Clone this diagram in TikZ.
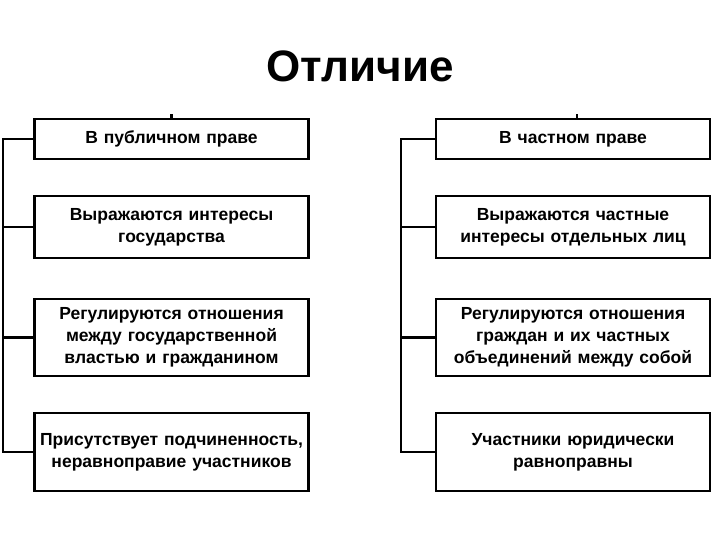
\documentclass[tikz,border=0pt]{standalone}
\usepackage{fontspec}
\setmainfont{Liberation Sans}
\usepackage{tikz}
\usetikzlibrary{positioning}

\begin{document}
\begin{tikzpicture}[x=1pt, y=-1pt, line width=2.2pt,
  item/.style={draw, rectangle, minimum width=274pt, text width=272pt,
    align=center, inner sep=0pt, font=\bfseries\fontsize{17.5}{22}\selectfont}]
  % canvas
  \useasboundingbox (0,0) rectangle (720,540);

  % Title
  \node[font=\bfseries\fontsize{44}{48}\selectfont, anchor=base] (title) at (360,82) {Отличие};

  % Left column: public law
  \node[item, minimum height=40pt] (pub1) at (171.5,139) {В публичном праве};
  \node[item, minimum height=62pt] (pub2) at (171.5,227) {Выражаются интересы\\государства};
  \node[item, minimum height=77pt] (pub3) at (171.5,337.5) {Регулируются отношения\\между государственной\\властью и гражданином};
  \node[item, minimum height=78pt] (pub4) at (171.5,452) {Присутствует подчиненность,\\неравноправие участников};

  % Right column: private law
  \node[item, minimum height=40pt] (priv1) at (573,139) {В частном праве};
  \node[item, minimum height=62pt] (priv2) at (573,227) {Выражаются частные\\интересы отдельных лиц};
  \node[item, minimum height=77pt] (priv3) at (573,337.5) {Регулируются отношения\\граждан и их частных\\объединений между собой};
  \node[item, minimum height=78pt] (priv4) at (573,452) {Участники юридически\\равноправны};

  % Left bus
  \coordinate (lbus) at (3,452);
  \draw (pub1.west) -| (lbus) -- (pub4.west);
  \draw (pub2.west) -- (pub2.west -| lbus);
  \draw (pub3.west) -- (pub3.west -| lbus);
  \draw (pub1.north) -- ++(0,-4);

  % Right bus
  \coordinate (rbus) at (401,452);
  \draw (priv1.west) -| (rbus) -- (priv4.west);
  \draw (priv2.west) -- (priv2.west -| rbus);
  \draw (priv3.west) -- (priv3.west -| rbus);
  \draw ([xshift=4pt]priv1.north) -- ++(0,-4);
\end{tikzpicture}
\end{document}
